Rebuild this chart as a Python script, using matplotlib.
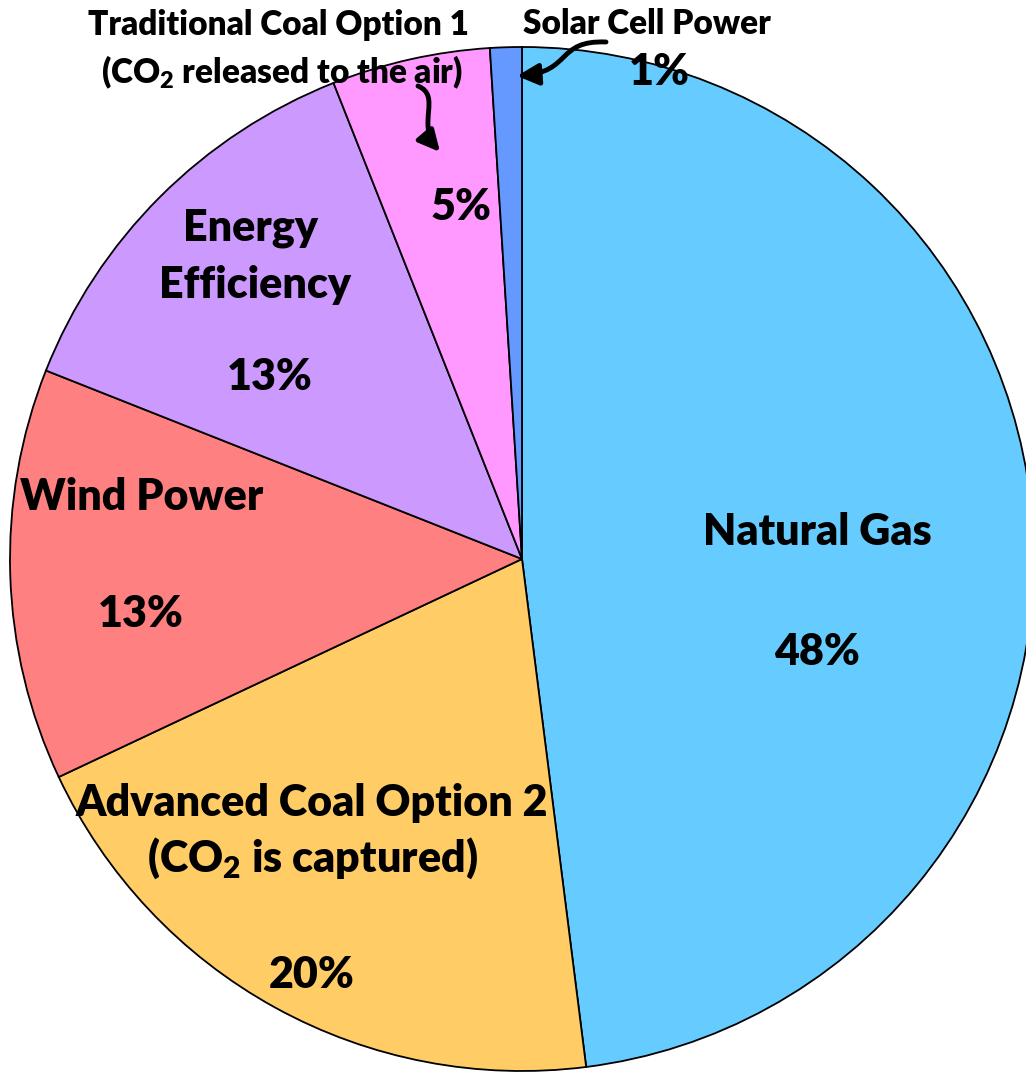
import matplotlib.pyplot as plt
from matplotlib.patches import FancyArrowPatch
from matplotlib.path import Path

# 数据
sources = ['Natural Gas', 'Advanced Coal Option 2', 'Wind Power',
           'Energy Efficiency', 'Traditional Coal Option 1', 'Solar Cell Power']
shares = [48, 20, 13, 13, 5, 1]
colors = ['#66CCFF', '#FFCC66', '#FF8080', '#CC99FF', '#FF99FF', '#6699FF']

W, H = 1026, 1072
WT = 'heavy'
plt.rcParams['font.family'] = ['Lato', 'DejaVu Sans']
plt.rcParams['mathtext.fontset'] = 'custom'
plt.rcParams['mathtext.rm'] = 'Lato:heavy'
plt.rcParams['mathtext.it'] = 'Lato:heavy'
plt.rcParams['mathtext.bf'] = 'Lato:heavy'

fig = plt.figure(figsize=(W / 100, H / 100), dpi=100)
ax = fig.add_axes([0, 0, 1, 1])

def Y(y):  # 像素坐标 -> 数据坐标
    return H - y

ax.pie(shares, colors=colors, startangle=90, counterclock=False,
       center=(522, Y(559)), radius=512,
       wedgeprops=dict(edgecolor='black', linewidth=1.3))
ax.set_xlim(0, W)
ax.set_ylim(0, H)
ax.set_aspect('auto')
ax.axis('off')

fs = 31
def txt(x, y, s, size=fs):
    ax.text(x, Y(y), s, ha='center', va='center', fontsize=size,
            fontweight=WT, color='black')

txt(817, 532, 'Natural Gas')
txt(817, 652, '48%')
txt(312, 803, 'Advanced Coal Option 2')
txt(312, 858, '(CO$_2$ is captured)')
txt(312, 975, '20%')
txt(142, 497, 'Wind Power')
txt(141, 614, '13%')
txt(250, 228, 'Energy')
txt(255, 285, 'Efficiency')
txt(270, 377, '13%')
txt(461, 207, '5%')
txt(659, 72, '1%')
txt(278, 25, 'Traditional Coal Option 1', size=24)
txt(282, 72, '(CO$_2$ released to the air)', size=24)
txt(647, 24, 'Solar Cell Power', size=24)

# 弯曲箭头
def curved_arrow(pts):
    verts = [(x, Y(y)) for x, y in pts]
    path = Path(verts, [Path.MOVETO, Path.CURVE4, Path.CURVE4, Path.CURVE4])
    arr = FancyArrowPatch(path=path, arrowstyle='-|>', mutation_scale=32,
                          linewidth=3.5, color='black')
    ax.add_patch(arr)

curved_arrow([(418, 86), (442, 96), (416, 124), (440, 152)])
curved_arrow([(606, 42), (556, 40), (572, 72), (517, 76)])

fig.savefig('out.png', dpi=100)
